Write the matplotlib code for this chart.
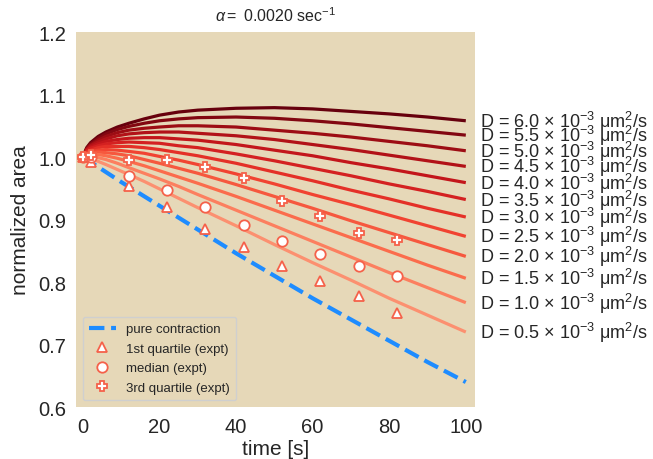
import numpy as np
import matplotlib
matplotlib.use("Agg")
import matplotlib.pyplot as plt
from matplotlib import transforms

plt.rcParams['font.family'] = ['Liberation Sans', 'DejaVu Sans']
plt.rcParams['mathtext.fontset'] = 'custom'
plt.rcParams['mathtext.rm'] = 'Liberation Sans'
plt.rcParams['mathtext.it'] = 'Liberation Sans:italic'
plt.rcParams['mathtext.bf'] = 'Liberation Sans:bold'

# ---- model curves: normalized area vs time for each diffusion coefficient ----
t_model = [0, 1, 2, 4, 6, 9, 12, 16, 20, 25, 30, 40, 50, 60, 70, 80, 90, 100]
d_values = [6.0, 5.5, 5.0, 4.5, 4.0, 3.5, 3.0, 2.5, 2.0, 1.5, 1.0, 0.5]

area_d60 = [1.000, 1.015, 1.023, 1.033, 1.040, 1.048, 1.054, 1.061, 1.067, 1.072, 1.075, 1.078, 1.079, 1.077, 1.073, 1.069, 1.064, 1.058]
area_d55 = [1.000, 1.014, 1.021, 1.030, 1.037, 1.044, 1.049, 1.054, 1.058, 1.061, 1.063, 1.064, 1.062, 1.058, 1.053, 1.047, 1.041, 1.035]
area_d50 = [1.000, 1.013, 1.019, 1.027, 1.033, 1.039, 1.043, 1.046, 1.048, 1.050, 1.050, 1.048, 1.043, 1.038, 1.032, 1.025, 1.018, 1.010]
area_d45 = [1.000, 1.012, 1.018, 1.024, 1.029, 1.034, 1.037, 1.039, 1.040, 1.040, 1.038, 1.034, 1.028, 1.020, 1.012, 1.003, 0.994, 0.985]
area_d40 = [1.000, 1.011, 1.016, 1.021, 1.025, 1.028, 1.030, 1.031, 1.031, 1.029, 1.027, 1.020, 1.011, 1.002, 0.991, 0.981, 0.970, 0.959]
area_d35 = [1.000, 1.010, 1.014, 1.018, 1.021, 1.023, 1.024, 1.023, 1.022, 1.018, 1.015, 1.005, 0.994, 0.982, 0.970, 0.957, 0.945, 0.932]
area_d30 = [1.000, 1.008, 1.011, 1.015, 1.017, 1.017, 1.017, 1.015, 1.012, 1.007, 1.002, 0.990, 0.976, 0.962, 0.947, 0.933, 0.918, 0.904]
area_d25 = [1.000, 1.007, 1.009, 1.011, 1.012, 1.011, 1.009, 1.006, 1.001, 0.995, 0.988, 0.973, 0.957, 0.940, 0.924, 0.907, 0.890, 0.873]
area_d20 = [1.000, 1.005, 1.007, 1.008, 1.007, 1.005, 1.002, 0.996, 0.990, 0.982, 0.974, 0.956, 0.937, 0.918, 0.898, 0.879, 0.860, 0.841]
area_d15 = [1.000, 1.004, 1.004, 1.004, 1.002, 0.998, 0.993, 0.986, 0.978, 0.968, 0.958, 0.937, 0.915, 0.893, 0.871, 0.849, 0.827, 0.806]
area_d10 = [1.000, 1.002, 1.001, 0.999, 0.996, 0.990, 0.983, 0.974, 0.965, 0.953, 0.940, 0.915, 0.890, 0.865, 0.840, 0.815, 0.791, 0.767]
area_d05 = [1.000, 1.000, 0.998, 0.993, 0.988, 0.980, 0.972, 0.961, 0.949, 0.934, 0.919, 0.890, 0.860, 0.831, 0.803, 0.774, 0.747, 0.720]

# ---- pure contraction (no diffusion) ----
t_contract = [0, 10, 20, 30, 40, 50, 60, 70, 80, 90, 100]
area_contract = [1.000, 0.960, 0.922, 0.884, 0.846, 0.810, 0.774, 0.740, 0.706, 0.672, 0.640]

# ---- experimental quartiles ----
t_expt = [0, 2, 12, 22, 32, 42, 52, 62, 72, 82]
q1_expt = [1.000, 0.992, 0.953, 0.920, 0.885, 0.856, 0.825, 0.801, 0.778, 0.750]
median_expt = [1.000, 1.000, 0.970, 0.947, 0.920, 0.892, 0.866, 0.845, 0.826, 0.810]
q3_expt = [1.000, 1.004, 0.996, 0.996, 0.984, 0.967, 0.930, 0.905, 0.878, 0.867]

alpha_label = '0.0020'

model_curves = [area_d60, area_d55, area_d50, area_d45, area_d40, area_d35,
                area_d30, area_d25, area_d20, area_d15, area_d10, area_d05]

bg = '#e6d8b8'
marker_edge = '#f5614a'

fig = plt.figure(figsize=(6.53, 4.6), dpi=100)
ax = fig.add_axes([0.1164, 0.1130, 0.6110, 0.8152])
ax.set_facecolor(bg)
for s in ax.spines.values():
    s.set_visible(False)

cmap = plt.get_cmap('Reds')
colors = cmap(np.linspace(1.0, 0.38, len(d_values)))

label_tf = transforms.blended_transform_factory(ax.transAxes, ax.transData)
for d, curve, c in zip(d_values, model_curves, colors):
    ax.plot(t_model, curve, color=c, lw=2.3, solid_capstyle='butt', zorder=2)
    ax.text(1.0135, curve[-1], r'D = %.1f $\times$ 10$^{-3}$ μm$^{2}$/s' % d,
            transform=label_tf, fontsize=13, va='center', ha='left',
            color='#262626', clip_on=False)

ax.plot(t_contract, area_contract, color='#1e8cff', lw=3.0, ls='--',
        label='pure contraction', zorder=3)

mk = dict(ls='none', mfc='white', mec=marker_edge, mew=1.3, ms=7.5, zorder=4)
ax.plot(t_expt, q1_expt, marker='^', label='1st quartile (expt)', **mk)
ax.plot(t_expt, median_expt, marker='o', label='median (expt)', **mk)
ax.plot(t_expt, q3_expt, marker='P', label='3rd quartile (expt)', **mk)

ax.set_xlim(-1.8, 102.4)
ax.set_ylim(0.6, 1.2)
ax.set_xticks([0, 20, 40, 60, 80, 100])
ax.set_yticks([0.6, 0.7, 0.8, 0.9, 1.0, 1.1, 1.2])
ax.tick_params(axis='both', length=0, labelsize=14.5, pad=7, colors='#262626')
ax.set_xlabel('time [s]', fontsize=15, color='#262626', labelpad=2)
ax.set_ylabel('normalized area', fontsize=15, color='#262626', labelpad=6)
ax.set_title(r'$\alpha =$ %s sec$^{-1}$' % alpha_label, fontsize=11.5,
             color='#262626', pad=8)

leg = ax.legend(loc='lower left', fontsize=9.5, frameon=True, facecolor=bg,
                edgecolor='#cfcfcf', framealpha=1.0, handlelength=2.0,
                borderpad=0.5, labelspacing=0.55, bbox_to_anchor=(0.0, 0.0))
for txt in leg.get_texts():
    txt.set_color('#262626')

fig.savefig('out.png', dpi=100, facecolor='white')
